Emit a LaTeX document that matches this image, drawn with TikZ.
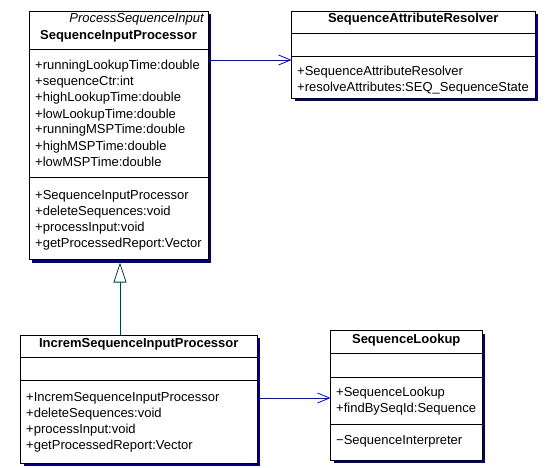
\documentclass[tikz,border=0pt]{standalone}
\usepackage{fontspec}
\setmainfont{Liberation Sans}
\usetikzlibrary{arrows.meta,shadows}
\definecolor{shadowblue}{RGB}{0,0,128}
\definecolor{assoc}{RGB}{0,0,255}
\definecolor{genc}{RGB}{0,64,64}
\tikzset{
 umlbox/.style={draw=black, fill=white, line width=0.8pt, inner sep=0pt, outer sep=0pt, anchor=north west,
   drop shadow={shadow xshift=3pt, shadow yshift=-3pt, fill=shadowblue, opacity=1}},
 txt/.style={inner sep=0pt, anchor=base west, font=\fontsize{13}{15}\selectfont},
 ttl/.style={inner sep=0pt, anchor=base, font=\fontsize{13}{15}\selectfont\bfseries},
 stereo/.style={inner sep=0pt, anchor=base east, font=\fontsize{13}{15}\selectfont\itshape},
 divider/.style={line width=0.8pt},
 assocline/.style={draw=assoc, line width=0.8pt, -{Straight Barb[length=12pt, width=10pt, line width=0.8pt]}},
 genline/.style={draw=genc, line width=0.8pt, -{Triangle[open, length=20pt, width=13pt, fill=white]}},
}
\begin{document}
\begin{tikzpicture}[x=1pt,y=-1pt]
\useasboundingbox (0,0) rectangle (551,468);

% Box 1
\node[umlbox, minimum width=179pt, minimum height=248.5pt] (b1) at (29,11) {};
\draw[divider] (b1.west |- 0,49) -- (b1.east |- 0,49);
\draw[divider] (b1.west |- 0,177) -- (b1.east |- 0,177);
\node[stereo] (s1) at (204,23) {ProcessSequenceInput};
\node[ttl] (t1) at (b1.north |- 0,39.5) {SequenceInputProcessor};
\foreach \t [count=\i] in {+runningLookupTime:double,+sequenceCtr:int,+highLookupTime:double,+lowLookupTime:double,+runningMSPTime:double,+highMSPTime:double,+lowMSPTime:double}
  \node[txt] (b1a\i) at (35,54+16*\i) {\t};
\foreach \t [count=\i] in {+SequenceInputProcessor,+deleteSequences:void,+processInput:void,+getProcessedReport:Vector}
  \node[txt] (b1m\i) at (35,183+16*\i) {\t};

% Box 2
\node[umlbox, minimum width=243.5pt, minimum height=86.5pt] (b2) at (291.5,11.5) {};
\draw[divider] (b2.west |- 0,33) -- (b2.east |- 0,33);
\draw[divider] (b2.west |- 0,56) -- (b2.east |- 0,56);
\node[ttl] (t2) at (b2.north |- 0,22.5) {SequenceAttributeResolver};
\foreach \t [count=\i] in {+SequenceAttributeResolver,+resolveAttributes:SEQ\_SequenceState}
  \node[txt] (b2m\i) at (297,60+16*\i) {\t};

% Box 3
\node[umlbox, minimum width=236.5pt, minimum height=128pt] (b3) at (20.5,335) {};
\draw[divider] (b3.west |- 0,357) -- (b3.east |- 0,357);
\draw[divider] (b3.west |- 0,380) -- (b3.east |- 0,380);
\node[ttl] (t3) at (b3.north |- 0,347) {IncremSequenceInputProcessor};
\foreach \t [count=\i] in {+IncremSequenceInputProcessor,+deleteSequences:void,+processInput:void,+getProcessedReport:Vector}
  \node[txt] (b3m\i) at (26,385+16*\i) {\t};

% Box 4
\node[umlbox, minimum width=151.5pt, minimum height=129.5pt] (b4) at (330.5,330.5) {};
\draw[divider] (b4.west |- 0,353) -- (b4.east |- 0,353);
\draw[divider] (b4.west |- 0,377) -- (b4.east |- 0,377);
\draw[divider] (b4.west |- 0,424) -- (b4.east |- 0,424);
\node[ttl] (t4) at (b4.north |- 0,343) {SequenceLookup};
\foreach \t [count=\i] in {+SequenceLookup,+findBySeqId:Sequence}
  \node[txt] (b4m\i) at (336,380+16*\i) {\t};
\node[txt] (b4p1) at (336,444) {−SequenceInterpreter};

% Connectors
\draw[assocline] ([xshift=3pt]b1.east |- 0,60) -- (b2.west |- 0,60);
\draw[assocline] ([xshift=3pt]b3.east |- 0,398) -- (b4.west |- 0,398);
\draw[genline] (b3.north -| 120,0) -- ([yshift=-3pt]b1.south -| 120,0);
\end{tikzpicture}
\end{document}
